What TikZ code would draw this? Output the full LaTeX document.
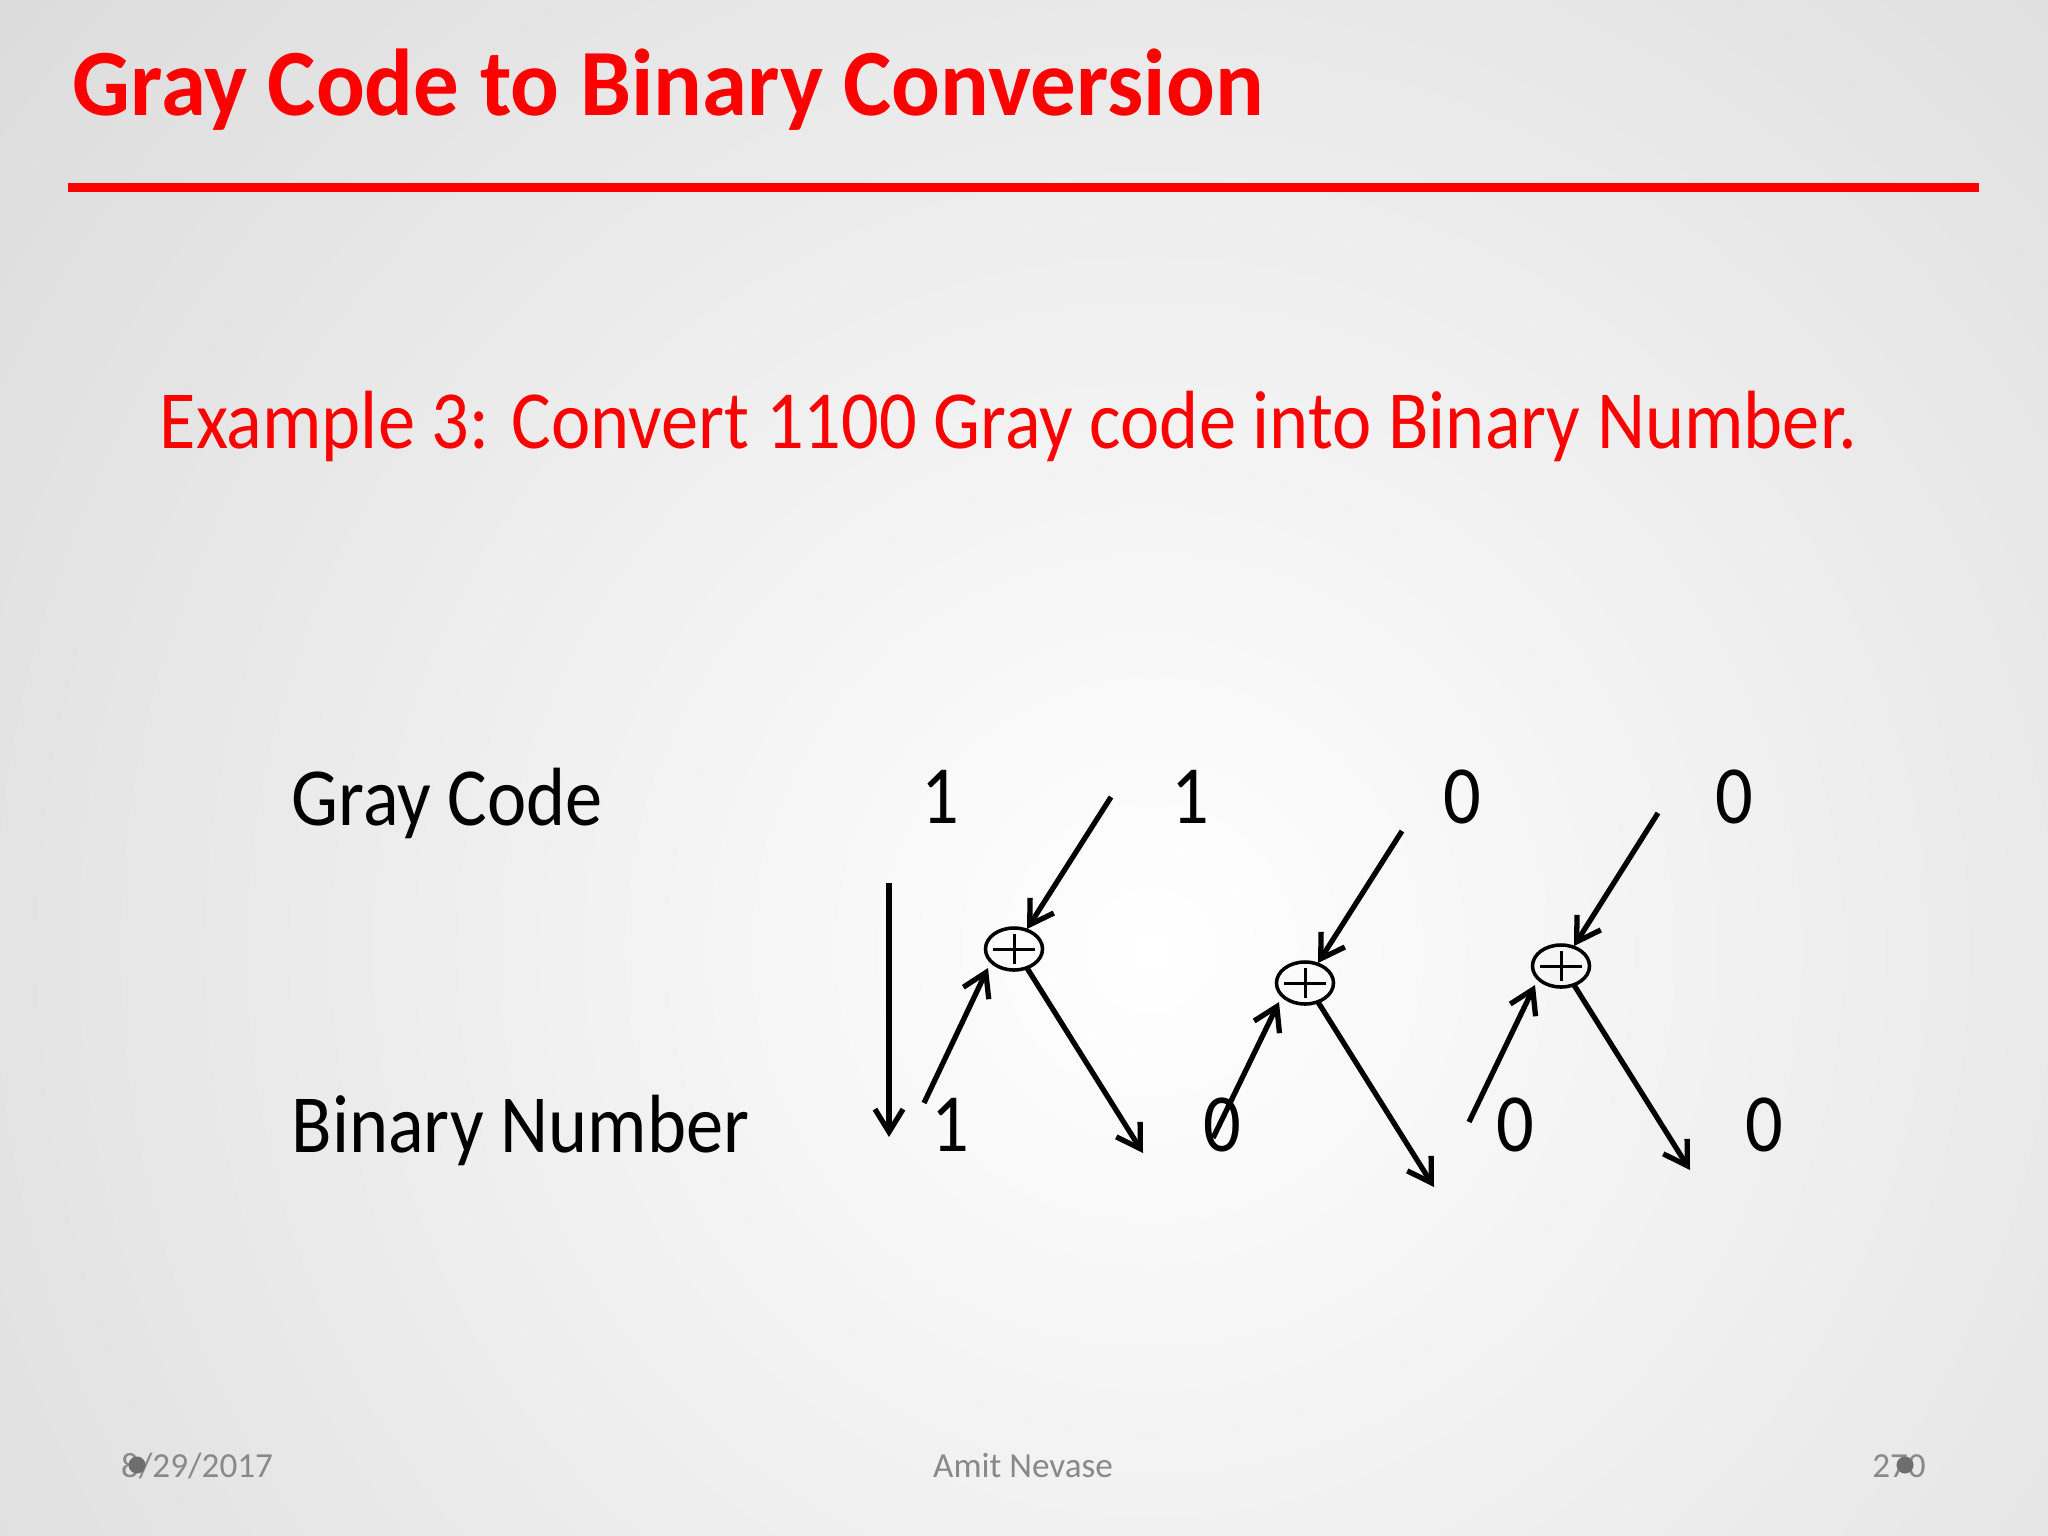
\documentclass[tikz,border=0pt]{standalone}
\usepackage{fontspec}
\setmainfont{Carlito}
\usetikzlibrary{arrows.meta,shapes.geometric,calc}
\definecolor{slidered}{RGB}{255,0,0}
\definecolor{footgray}{RGB}{137,137,137}
\definecolor{dotgray}{RGB}{110,110,110}
\newcommand{\nar}[1]{\scalebox{0.9}[1]{#1}}
\begin{document}
\begin{tikzpicture}[x=0.01cm,y=-0.01cm,
  arr/.style={line width=1.5pt,-{Straight Barb[length=6.5pt,width=8pt,line width=1.5pt]}},
  xorgate/.style={ellipse,draw,line width=1pt,minimum width=0.57cm,minimum height=0.42cm,inner sep=0pt,
    path picture={\draw[line width=0.85pt]
      ([xshift=0.075cm]path picture bounding box.west) -- ([xshift=-0.075cm]path picture bounding box.east)
      ([yshift=-0.06cm]path picture bounding box.north) -- ([yshift=0.06cm]path picture bounding box.south);}},
  big/.style={font=\fontsize{23.5}{28}\selectfont,inner sep=0pt},
  foot/.style={font=\fontsize{10}{12}\selectfont,text=footgray,inner sep=0pt,anchor=base}]
\useasboundingbox (0,0) rectangle (2048,1536);
\begin{scope}
  \clip (0,0) rectangle (2048,1536);
  \shade[inner color=white,outer color=black!14] (1150,950) circle (1500);
\end{scope}
% title
\node[anchor=base west,font=\fontsize{27}{32}\selectfont\bfseries,text=slidered,inner sep=0pt] (title) at (72,115) {\scalebox{0.958}[1]{Gray Code to Binary Conversion}};
\draw[slidered,line width=2.6pt] (68,187.5) -- (1979,187.5);
\node[big,anchor=base west,text=slidered] (sub) at (159,448) {\nar{Example 3: Convert 1100 Gray code into Binary Number.}};
% row labels
\node[big,anchor=base west] (glab) at (291,825) {\nar{Gray Code}};
\node[big,anchor=base west] (blab) at (291,1152) {\nar{Binary Number}};
% digits
\node[big,anchor=base] (g1) at (940,823) {\nar{1}};
\node[big,anchor=base] (g2) at (1190,823) {\nar{1}};
\node[big,anchor=base] (g3) at (1462,823) {\nar{0}};
\node[big,anchor=base] (g4) at (1734,823) {\nar{0}};
\node[big,anchor=base] (b1) at (950,1151) {\nar{1}};
\node[big,anchor=base] (b2) at (1222,1151) {\nar{0}};
\node[big,anchor=base] (b3) at (1515,1151) {\nar{0}};
\node[big,anchor=base] (b4) at (1764,1151) {\nar{0}};
% xor gates
\node[xorgate] (x1) at (1014,949) {};
\node[xorgate] (x2) at (1305,983) {};
\node[xorgate] (x3) at (1561,966) {};
% free ends
\coordinate (v0) at (889,883);
\coordinate (v1) at (889,1137);
\coordinate (t1) at (1111,797);
\coordinate (u1) at (924,1103);
\coordinate (d1) at (1143,1153);
\coordinate (t2) at (1402,831);
\coordinate (u2) at (1213,1138);
\coordinate (d2) at (1434,1187);
\coordinate (t3) at (1658,813);
\coordinate (u3) at (1469,1122);
\coordinate (d3) at (1690,1170);
% connectors
\draw[arr] (v0) -- (v1);
\foreach \i in {1,2,3}{
  \draw[arr] (t\i) -- ($(x\i)+(13,-20)$);
  \draw[arr] (u\i) -- ($(x\i)+(-26,19)$);
  \draw[arr] ($(x\i)+(13,19)$) -- (d\i);
}
% footer
\node[foot] (date) at (197,1477) {8/29/2017};
\node[foot] (auth) at (1023,1477) {Amit Nevase};
\node[foot] (page) at (1899,1477) {270};
\fill[dotgray] (137,1465) circle (8.5);
\fill[dotgray] (1905,1465) circle (8.5);
\end{tikzpicture}
\end{document}
